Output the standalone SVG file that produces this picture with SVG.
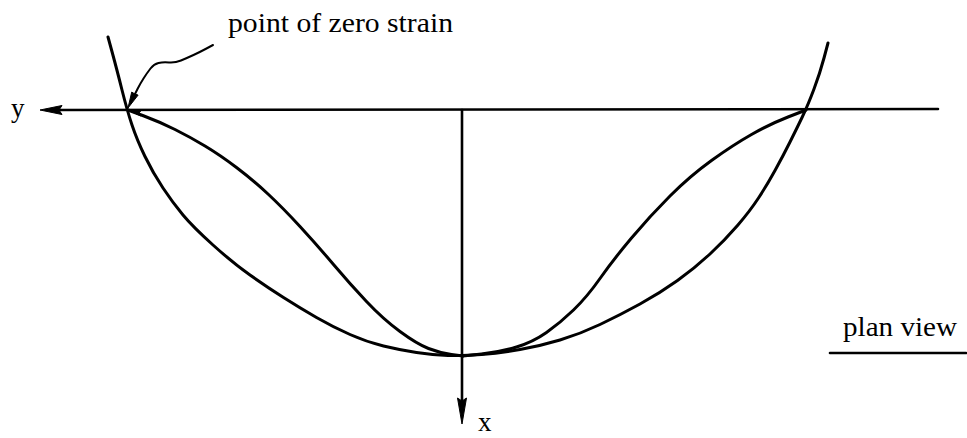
<svg xmlns="http://www.w3.org/2000/svg" width="967" height="438" viewBox="0 0 967 438">
<style>
  .crv { fill: none; stroke: #000; stroke-width: 3; stroke-linecap: round; stroke-linejoin: round; }
  .ax { fill: none; stroke: #000; stroke-width: 2.6; stroke-linecap: round; }
  .thin { fill: none; stroke: #000; stroke-width: 2; stroke-linecap: round; stroke-linejoin: round; }
  .head { fill: #000; stroke: #000; stroke-width: 1; stroke-linejoin: round; }
  .lbl { font-family: "Liberation Serif", "Times New Roman", serif; font-size: 27px; fill: #000; }
</style>
<rect width="967" height="438" fill="#fff"/>

<g id="connectors">
  <g id="y-axis">
    <line class="ax" x1="56" y1="110" x2="938" y2="109"/>
    <polygon class="head" points="40,110 62,105.5 59,110 62,114.5"/>
  </g>
  <g id="x-axis">
    <line class="ax" x1="462" y1="110" x2="462" y2="402"/>
    <polygon class="head" points="462,424 457.5,398 462,401 466.5,398"/>
  </g>
  <g id="leader">
    <path class="thin" d="M213,45 L206.5,48.5 Q200,52 193.5,55 Q187,58 181,60.5 Q175,63 169,62.5 Q163,62 158.5,63 Q154,64 150.5,68.5 Q147,73 143.5,78.5 Q140,84 137.5,89 L135,94"/>
    <polygon class="head" points="128,108 131.7,92.1 134.9,94 138.1,95.1"/>
  </g>
</g>

<g id="outer-curve">
  <path class="crv" d="M108,37 L112.5,53.5 Q117,70 122,90 Q127,110 132,125 Q137,140 145,156.5 Q153,173 163,188 Q173,203 183,215 Q193,227 213,245 Q233,263 250,275 Q267,287 283.5,297.5 Q300,308 316.5,317.5 Q333,327 350,334.5 Q367,342 383.5,346 Q400,350 416.5,352.5 Q433,355 448,355.5 Q463,356 481.5,354.5 Q500,353 520,349.5 Q540,346 560,340 Q580,334 600,324.5 Q620,315 640,304 Q660,293 677.5,280.5 Q695,268 710,254 Q725,240 737.5,225.5 Q750,211 758.5,198 Q767,185 775,170.5 Q783,156 790,142 Q797,128 802.5,116.5 Q808,105 814,89 Q820,73 824,58 L828,43"/>
</g>

<g id="inner-curve">
  <path class="crv" d="M128,110 L144,116 Q160,122 175,129.5 Q190,137 205,146 Q220,155 236.5,167.5 Q253,180 268,194 Q283,208 300,226.5 Q317,245 333.5,264.5 Q350,284 366.5,301.5 Q383,319 400,331.5 Q417,344 428.5,348.5 Q440,353 451.5,354.5 L463,356"/>
  <path class="crv" d="M463,356 L481.5,354 Q500,352 516.5,347 Q533,342 546.5,332.5 Q560,323 573.5,310 Q587,297 600,278.5 Q613,260 631.5,238 Q650,216 670,196 Q690,176 711.5,160.5 Q733,145 751.5,134.5 Q770,124 788,117 L806,110"/>
  <polygon class="head" points="130,111 142,109.5 139,113 141,116"/>
</g>

<g id="labels">
  <text class="lbl" x="228" y="32" font-size="26" textLength="225" lengthAdjust="spacingAndGlyphs">point of zero strain</text>
  <text class="lbl" x="11" y="117">y</text>
  <text class="lbl" x="478" y="431">x</text>
  <g id="plan-view">
    <text class="lbl" x="843" y="336" textLength="114" lengthAdjust="spacingAndGlyphs">plan view</text>
    <line class="ax" x1="830" y1="353" x2="966" y2="353"/>
  </g>
</g>
</svg>
